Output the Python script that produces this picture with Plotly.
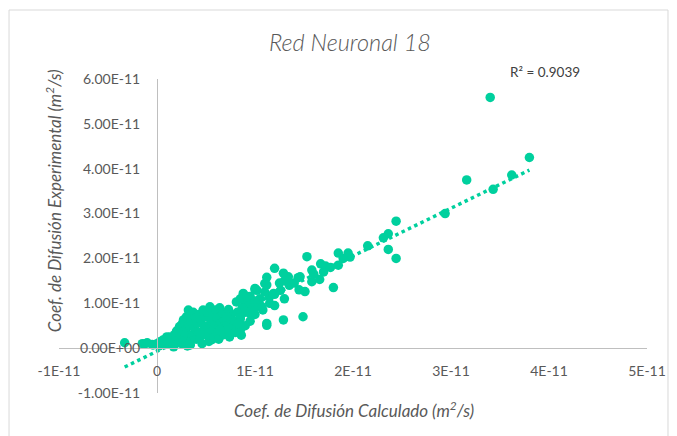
import plotly.graph_objects as go

SCALE = 1e-11

# Coef. de Difusión Calculado (units of 1e-11 m2/s)
x_calc = [
    -0.33, 3.40, 3.80, 3.62, 3.16, 3.43, 2.94, 2.44, 2.36, 2.31, 2.15, 2.36, 1.85, 1.95, 1.97, 2.44,
    1.53, 1.67, 1.77, 1.72, 1.58, 1.66, 1.80, 1.51, 1.44, 1.34, 1.20, 1.29, 1.12, 1.10, 1.26, 1.00,
    1.15, 1.46, 1.58, 1.00, 0.88, 0.81, 1.08, 1.29, 1.49, 1.12, 0.86, 0.56,
    1.05, 1.10, 1.20, 1.25, 1.30, 1.35, 1.40, 1.45, 1.30, 1.15, 1.00, 0.95, 0.90, 0.85, 0.95, 1.05,
    0.90, 1.00, 0.85, 0.95, 1.00, 1.20, 1.60, 1.70, 1.85, 1.90,
    0.00, 0.02, 0.05, 0.08, 0.10, 0.12, -0.05, -0.10, -0.15, -0.12, -0.04,
    0.13, 0.15, 0.17, 0.18, 0.20, 0.20, 0.22,
    0.23, 0.24, 0.25, 0.26, 0.27, 0.28, 0.29, 0.30, 0.30,
    0.31, 0.32, 0.33, 0.34, 0.35, 0.36, 0.37, 0.38, 0.39, 0.40,
    0.41, 0.42, 0.43, 0.44, 0.45, 0.46, 0.47, 0.48, 0.49, 0.50,
    0.51, 0.52, 0.53, 0.54, 0.55, 0.56, 0.57, 0.58, 0.59, 0.60,
    0.61, 0.62, 0.63, 0.64, 0.65, 0.66, 0.67, 0.68, 0.69, 0.70,
    0.71, 0.72, 0.73, 0.74, 0.75, 0.76, 0.78, 0.80, 0.80,
    0.82, 0.83, 0.85, 0.85, 0.87, 0.90,
    0.64, 0.71, 0.95, 1.07, 1.12, 0.83, 0.44, 0.20, 0.10, 0.03, 0.17, 0.34, 0.06, 0.92, 1.02, 1.12, 1.19,
]

# Coef. de Difusión Experimental (units of 1e-11 m2/s)
y_exp = [
    0.12, 5.59, 4.25, 3.86, 3.75, 3.54, 3.00, 2.83, 2.55, 2.46, 2.28, 2.20, 2.12, 2.12, 2.03, 2.00,
    2.04, 1.88, 1.80, 1.83, 1.74, 1.53, 1.35, 1.26, 1.57, 1.59, 1.78, 1.67, 1.58, 1.44, 1.29, 1.30,
    1.15, 1.59, 1.48, 1.33, 1.22, 1.03, 0.85, 0.63, 0.70, 0.51, 0.29, 0.19,
    1.10, 1.25, 1.20, 1.45, 1.50, 1.40, 1.45, 1.30, 1.10, 1.00, 1.05, 0.95, 1.00, 1.10, 1.15, 0.95,
    0.80, 0.75, 0.65, 0.60, 0.90, 0.95, 1.65, 1.70, 1.85, 2.00,
    0.10, 0.05, 0.12, 0.08, 0.20, 0.10, 0.08, 0.12, 0.10, 0.10, 0.07,
    0.25, 0.15, 0.05, 0.30, 0.12, 0.38, 0.20,
    0.48, 0.30, 0.10, 0.55, 0.63, 0.22, 0.40, 0.70, 0.33,
    0.05, 0.85, 0.50, 0.15, 0.60, 0.30, 0.80, 0.45, 0.68, 0.20,
    0.55, 0.35, 0.75, 0.25, 0.62, 0.10, 0.85, 0.45, 0.70, 0.30,
    0.81, 0.50, 0.15, 0.92, 0.62, 0.40, 0.75, 0.25, 0.55, 0.85,
    0.68, 0.35, 0.20, 0.90, 0.55, 0.45, 0.78, 0.30, 0.62, 0.70,
    0.55, 0.40, 0.86, 0.25, 0.65, 0.75, 0.50, 0.60, 0.35,
    0.80, 0.55, 0.40, 0.70, 0.90, 0.50,
    0.40, 0.70, 0.77, 0.92, 0.55, 0.55, 0.33, 0.36, 0.25, 0.14, 0.03, 0.07, 0.18, 1.15, 1.29, 1.41, 1.22,
]

# Linear trendline (y = a*x + b, units 1e-11)
trend_slope = 1.063
trend_intercept = -0.07
r2_label = "R² = 0.9039"

x_ticks = [-1, 0, 1, 2, 3, 4, 5]
x_tick_text = ["-1E-11", "0", "1E-11", "2E-11", "3E-11", "4E-11", "5E-11"]
y_ticks = [-1, 0, 1, 2, 3, 4, 5, 6]
y_tick_text = ["-1.00E-11", "0.00E+00", "1.00E-11", "2.00E-11", "3.00E-11",
               "4.00E-11", "5.00E-11", "6.00E-11"]

title_text = "Red Neuronal 18"
x_title = "Coef. de Difusión Calculado (m<sup>2</sup>/s)"
y_title = "Coef. de Difusión Experimental (m<sup>2</sup>/s)"

COLOR = "#00D09E"
GRAY = "#595959"
FONT = "Lato"

xs = [v * SCALE for v in x_calc]
ys = [v * SCALE for v in y_exp]
xmin, xmax = min(x_calc), max(x_calc)
trend_x = [xmin * SCALE, xmax * SCALE]
trend_y = [(trend_slope * xmin + trend_intercept) * SCALE,
           (trend_slope * xmax + trend_intercept) * SCALE]

fig = go.Figure()
fig.add_trace(go.Scatter(
    x=xs, y=ys, mode="markers",
    marker=dict(color=COLOR, size=9.5, line=dict(width=0)),
    showlegend=False, hoverinfo="skip",
))
fig.add_trace(go.Scatter(
    x=trend_x, y=trend_y, mode="lines",
    line=dict(color=COLOR, width=3.5, dash="dot"),
    showlegend=False, hoverinfo="skip",
))

x_lo, x_hi = x_ticks[0] * SCALE, x_ticks[-1] * SCALE
y_lo, y_hi = y_ticks[0] * SCALE, y_ticks[-1] * SCALE

fig.update_layout(
    width=677, height=436,
    margin=dict(l=51, r=38, t=71, b=51),
    paper_bgcolor="white", plot_bgcolor="white",
    font=dict(family=FONT, color=GRAY, size=13),
    xaxis=dict(
        range=[x_lo, x_hi], tickvals=[v * SCALE for v in x_ticks], ticktext=x_tick_text,
        showgrid=False, zeroline=False, showline=True, linecolor="#BFBFBF", linewidth=1,
        ticks="outside", ticklen=10, tickcolor="rgba(0,0,0,0)",
        anchor="free", position=(0 - y_ticks[0]) / (y_ticks[-1] - y_ticks[0]),
        tickfont=dict(family=FONT, size=14, color=GRAY),
    ),
    yaxis=dict(
        range=[y_lo, y_hi], tickvals=[v * SCALE for v in y_ticks], ticktext=y_tick_text,
        showgrid=False, zeroline=False, showline=True, linecolor="#BFBFBF", linewidth=1,
        ticks="outside", ticklen=14, tickcolor="rgba(0,0,0,0)",
        anchor="free", position=(0 - x_ticks[0]) / (x_ticks[-1] - x_ticks[0]),
        tickfont=dict(family=FONT, size=14, color=GRAY),
    ),
    annotations=[
        dict(text=title_text, xref="paper", yref="paper", x=0.495, y=1.118,
             showarrow=False, xanchor="center", yanchor="middle",
             font=dict(family=FONT, size=23.5, color=GRAY, style="italic", weight=300)),
        dict(text=x_title, xref="paper", yref="paper", x=0.502, y=-0.054,
             showarrow=False, xanchor="center", yanchor="middle",
             font=dict(family=FONT, size=17, color=GRAY, style="italic")),
        dict(text=y_title, xref="paper", yref="paper", x=-0.0102, y=0.611,
             showarrow=False, xanchor="center", yanchor="middle", textangle=-90,
             font=dict(family=FONT, size=17, color=GRAY, style="italic")),
        dict(text=r2_label, xref="paper", yref="paper", x=0.764, y=1.022,
             showarrow=False, xanchor="left", yanchor="middle",
             font=dict(family=FONT, size=13.5, color="#404040")),
    ],
    shapes=[
        dict(type="rect", xref="paper", yref="paper",
             x0=-0.085, x1=1.0357, y0=-0.16, y1=1.2197,
             line=dict(color="#D9D9D9", width=1), fillcolor="rgba(0,0,0,0)", layer="below"),
    ],
)

fig.write_html("out.html")
